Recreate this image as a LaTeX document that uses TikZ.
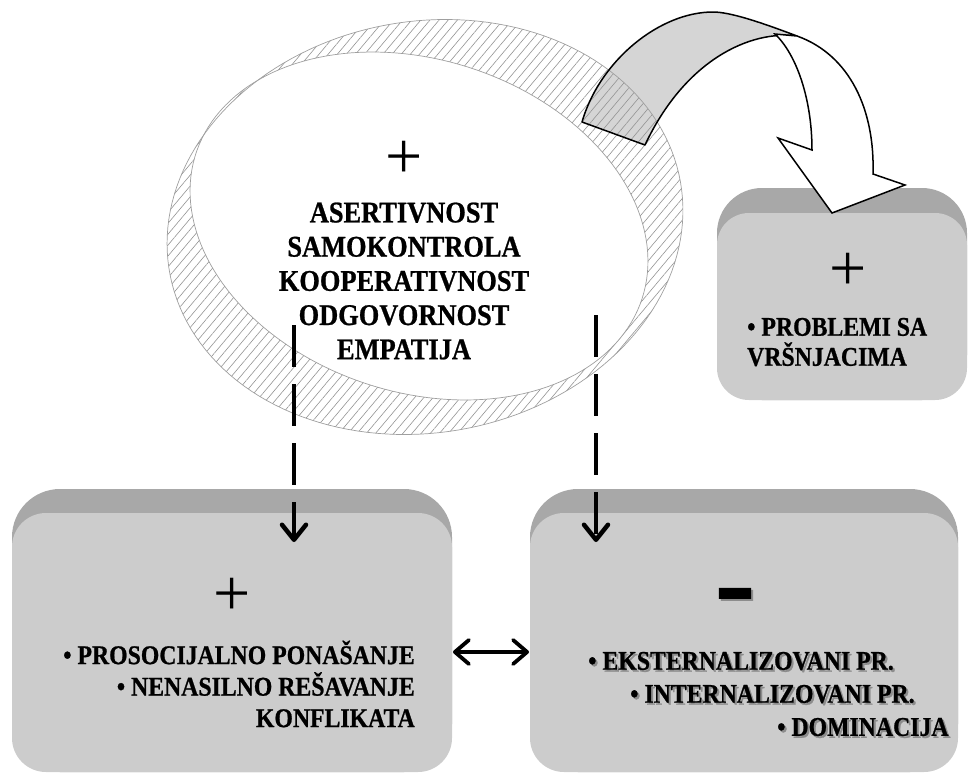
\documentclass[tikz,border=0pt]{standalone}
\usepackage{fontspec}
\setmainfont{Liberation Serif}
\newfontfamily\cbf{Liberation Serif}[FakeStretch=0.88, BoldFeatures={FakeBold=0.8}]
\usetikzlibrary{arrows.meta,patterns.meta}
\newcommand{\shtext}[1]{\makebox[0pt][l]{\hspace{2pt}\raisebox{-2pt}{\textcolor{black!45}{#1}}}#1}
\begin{document}
\begin{tikzpicture}[x=1pt,y=-1pt,
  band/.style={fill=gray!68},
  face/.style={fill=gray!40},
  lbl/.style={font=\cbf\bfseries\fontsize{27}{32.5}\selectfont, inner sep=0pt},
  eltxt/.style={font=\cbf\bfseries\fontsize{30}{34.2}\selectfont, align=center, inner sep=0pt},
  sign/.style={font=\fontsize{66}{66}\selectfont, inner sep=0pt},
  ringline/.style={draw=gray!75, line width=0.7pt},
  arrline/.style={draw=black, line width=1.5pt, line join=round},
  dasharrow/.style={line width=4.5pt, dash pattern=on 42pt off 17pt,
     -{Straight Barb[length=15pt,width=24pt,round]}},
  dblarrow/.style={line width=3.8pt,
     {Straight Barb[length=14pt,width=24pt,round]}-{Straight Barb[length=14pt,width=24pt,round]}}
]
\useasboundingbox (0,0) rectangle (970,772);

% ---- boxes
\fill[band, rounded corners=45pt] (717,188) rectangle (967,400);
\fill[face, rounded corners=32pt] (717,213) rectangle (967,400);
\fill[band, rounded corners=48pt] (12,489) rectangle (452,772);
\fill[face, rounded corners=34pt] (12,513) rectangle (452,772);
\fill[band, rounded corners=48pt] (530,489) rectangle (958,772);
\fill[face, rounded corners=34pt] (530,513) rectangle (958,772);

% ---- curved arrow, back face (fill)
\fill[gray!33] (582,122) .. controls (600,60) and (660,12) .. (713,12)
   .. controls (730,12) and (760,22) .. (797,36)
   .. controls (750,30) and (685,60) .. (645,145) -- cycle;

% ---- hatched ring
\fill[pattern={Lines[angle=50,distance=7pt,line width=0.6pt]}, pattern color=gray!85, even odd rule]
  plot[domain=0:360,samples=160,variable=\t]
   ({425+259.4*cos(\t)*cos(10)-205.7*sin(\t)*sin(10)},{227-(259.4*cos(\t)*sin(10)+205.7*sin(\t)*cos(10))}) -- cycle
  plot[domain=0:360,samples=160,variable=\t]
   ({419+234.6*cos(\t)*cos(-18)-166.3*sin(\t)*sin(-18)},{226-(234.6*cos(\t)*sin(-18)+166.3*sin(\t)*cos(-18))}) -- cycle;
\draw[ringline]
  plot[domain=0:360,samples=160,variable=\t]
   ({425+259.4*cos(\t)*cos(10)-205.7*sin(\t)*sin(10)},{227-(259.4*cos(\t)*sin(10)+205.7*sin(\t)*cos(10))}) -- cycle;
\draw[ringline]
  plot[domain=0:360,samples=160,variable=\t]
   ({419+234.6*cos(\t)*cos(-18)-166.3*sin(\t)*sin(-18)},{226-(234.6*cos(\t)*sin(-18)+166.3*sin(\t)*cos(-18))}) -- cycle;

% ---- curved arrow outline and front face
\draw[arrline] (582,122) .. controls (600,60) and (660,12) .. (713,12)
   .. controls (730,12) and (760,22) .. (797,36)
   .. controls (750,30) and (685,60) .. (645,145) -- cycle;
\filldraw[fill=white, arrline, line join=miter]
   (775,34) .. controls (797,55) and (812,100) .. (812,150)
   -- (778,138) -- (832,213) -- (905,185) -- (873,174)
   .. controls (875,110) and (850,55) .. (797,36) -- cycle;

% ---- ellipse texts
\node[sign] (plusE) at (404,160) {+};
\node[eltxt] (traits) at (404,281) {ASERTIVNOST\\SAMOKONTROLA\\KOOPERATIVNOST\\ODGOVORNOST\\EMPATIJA};

% ---- top-right box texts
\node[sign] (plusTR) at (848,272) {+};
\node[lbl, align=left, anchor=west, font=\cbf\bfseries\fontsize{27}{30}\selectfont] (peers) at (747,342) {• PROBLEMI SA\\VRŠNJACIMA};

% ---- bottom-left box texts
\node[sign] (plusL) at (232,597) {+};
\node[lbl, align=right, anchor=east, font=\cbf\bfseries\fontsize{27}{31.5}\selectfont] (prosoc) at (415,684)
  {• PROSOCIJALNO PONAŠANJE\\• NENASILNO REŠAVANJE\\KONFLIKATA};

% ---- bottom-right box texts
\node[inner sep=0pt, anchor=base] (minusR) at (735,626)
  {\shtext{\scalebox{1}[2]{\fontsize{70}{70}\selectfont\cbf\bfseries –}}};
\node[lbl, anchor=west] (ext) at (588,662) {\shtext{• EKSTERNALIZOVANI PR.}};
\node[lbl, anchor=west] (int) at (630,695) {\shtext{• INTERNALIZOVANI PR.}};
\node[lbl, anchor=west] (dom) at (777,728) {\shtext{• DOMINACIJA}};

% ---- connectors
\coordinate (dL0) at (294,325);
\coordinate (dL1) at (294,542);
\coordinate (dR0) at (596,315);
\coordinate (dR1) at (596,542);
\draw[dasharrow] (dL0) -- (dL1);
\draw[dasharrow] (dR0) -- (dR1);
\coordinate (lboxE) at (453,652);
\coordinate (rboxW) at (529,652);
\draw[dblarrow] (lboxE) -- (rboxW);
\end{tikzpicture}
\end{document}
